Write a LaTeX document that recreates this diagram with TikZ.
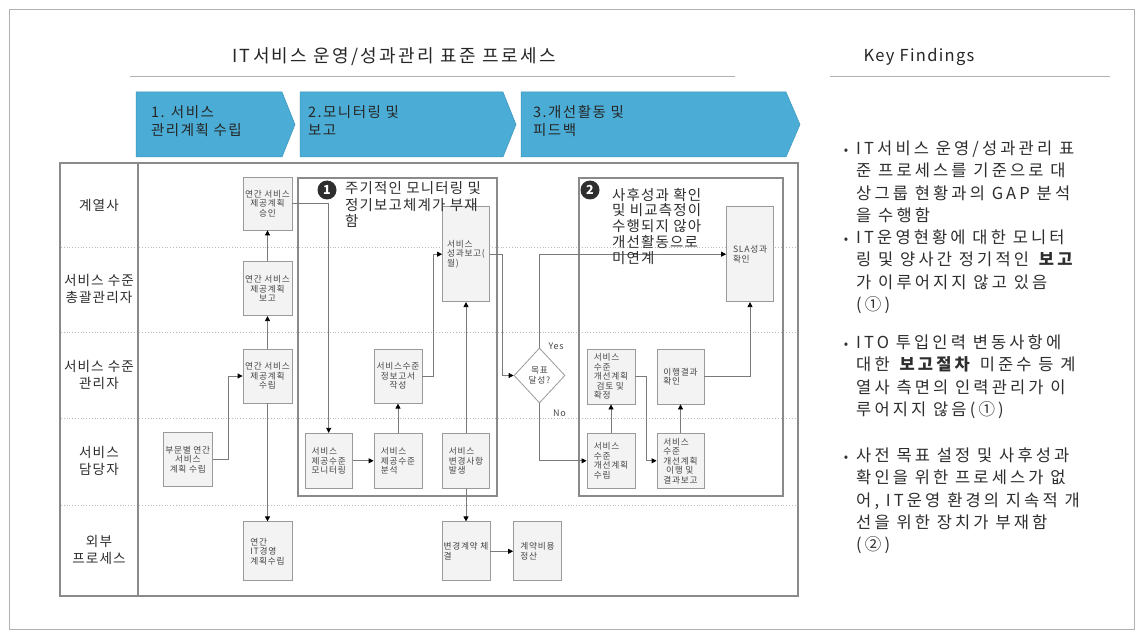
\documentclass[tikz,border=0pt]{standalone}
\usepackage{fontspec}
\setmainfont{Noto Sans CJK KR}[LetterSpace=8]
\newfontfamily\kffont{Noto Sans CJK KR}[LetterSpace=19]
\newfontfamily\headfont{Noto Sans CJK KR}[LetterSpace=13]
\newfontfamily\chevfont{Noto Sans CJK KR}[LetterSpace=10]
\usetikzlibrary{shapes.geometric,arrows.meta,calc}
\definecolor{chev}{HTML}{4BADD6}
\definecolor{chevline}{HTML}{3C95BD}
\definecolor{boxfill}{HTML}{F3F3F3}
\definecolor{boxline}{HTML}{9A9A9A}
\definecolor{lineg}{HTML}{7A7A7A}
\definecolor{frameg}{HTML}{8A8A8A}
\definecolor{txt}{HTML}{2E2E2E}
\definecolor{boxtxt}{HTML}{474747}
\definecolor{dotg}{HTML}{BBBBBB}
\definecolor{borderg}{HTML}{B0B0B0}
\begin{document}
\begin{tikzpicture}[x=1pt,y=-1pt,
  pbox/.style 2 args={draw=boxline, fill=boxfill, line width=0.8pt, inner sep=1pt,
     minimum width=#1, minimum height=#2, font=\fontsize{8.7}{9.5}\selectfont, text=boxtxt, align=center},
  lbox/.style 2 args={pbox={#1}{#2}, align=left},
  arr/.style={draw=lineg, line width=0.8pt, -{Triangle[length=5pt,width=5pt,black]}},
  lane/.style={font=\fontsize{13.6}{17}\selectfont, text=txt, align=center},
  chevtxt/.style={anchor=base west, font=\chevfont\fontsize{14.5}{18}\selectfont, text=black!85, align=left, inner sep=0},
  notetxt/.style={anchor=base west, font=\fontsize{14.5}{16.3}\selectfont, text=txt, align=left, inner sep=0},
  kf/.style={anchor=base west, font=\kffont\fontsize{16.5}{22.3}\selectfont, text=txt, align=left, inner sep=0},
  kfdot/.style={anchor=base, font=\fontsize{13}{13}\selectfont, text=txt, inner sep=0},
  numc/.style={circle, fill=black!82, minimum size=19, inner sep=0, text=white, font=\bfseries\fontsize{12.5}{12.5}\selectfont},
  yn/.style={font=\fontsize{9}{9}\selectfont, text=boxtxt, inner sep=0},
  heading/.style={font=\headfont\fontsize{18}{20}\selectfont, text=black!85, inner sep=0},
  frame/.style={draw=frameg, line width=2.6pt},
  dotline/.style={draw=dotg, line width=0.8pt, dotted}
]
\useasboundingbox (0,0) rectangle (1143,639);
\fill[white] (0,0) rectangle (1143,639);
\draw[borderg, line width=0.8pt] (9,9) rectangle (1134,629);

% headings
\node[heading] (title) at (394,57) {IT서비스 운영/성과관리 표준 프로세스};
\node[heading, font=\fontsize{16.5}{18}\selectfont] (kfhead) at (919,57) {Key Findings};
\draw[borderg, line width=1pt] (130,77) -- (735,77);
\draw[borderg, line width=1pt] (830,77) -- (1110,77);

% chevrons
\fill[chev, draw=chevline, line width=0.5pt] (136,92) -- (282,92) -- (295,124.5) -- (282,157) -- (136,157) -- cycle;
\fill[chev, draw=chevline, line width=0.5pt] (300,92) -- (503,92) -- (516,124.5) -- (503,157) -- (300,157) -- cycle;
\fill[chev, draw=chevline, line width=0.5pt] (521,92) -- (786,92) -- (800,124.5) -- (786,157) -- (521,157) -- cycle;
\node[chevtxt] (c1) at (151,136) {1. 서비스\\관리계획 수립};
\node[chevtxt] (c2) at (308,136) {2.모니터링 및\\보고};
\node[chevtxt] (c3) at (533,136) {3.개선활동 및\\피드백};

% main frame and lanes
\foreach \yy in {247,332,418,505} \draw[dotline] (61,\yy) -- (797,\yy);
\draw[frameg, line width=1.5pt] (60,163) rectangle (798,596);
\draw[frameg, line width=1.2pt] (138,163) -- (138,596);
\node[lane] (l1) at (99,205) {계열사};
\node[lane] (l2) at (99,289) {서비스 수준\\총괄관리자};
\node[lane] (l3) at (99,375) {서비스 수준\\관리자};
\node[lane] (l4) at (99,461) {서비스\\담당자};
\node[lane] (l5) at (99,550) {외부\\프로세스};

% highlighted frames
\draw[frame] (298,178) rectangle (497,496);
\draw[frame] (579,178) rectangle (783,496);

% process boxes
\node[pbox={49}{53}] (A1) at (267.5,203.5) {연간 서비스\\제공계획\\승인};
\node[pbox={49}{54}] (A2) at (267.5,288.7) {연간 서비스\\제공계획\\보고};
\node[pbox={49}{54}] (A3) at (267.5,376) {연간 서비스\\제공계획\\수립};
\node[pbox={49}{54}] (B0) at (187.8,459.7) {부문별 연간\\서비스\\계획 수립};
\node[lbox={49}{59}] (E1) at (267.5,551.3) {연간\\IT경영\\계획수립};
\node[lbox={47}{55}] (M1) at (328.7,460.8) {서비스\\제공수준\\모니터링};
\node[lbox={48}{55}] (M2) at (398,460.8) {서비스\\제공수준\\분석};
\node[pbox={48}{54}] (M3) at (398,376.2) {서비스수준\\정보고서\\작성};
\node[lbox={47}{95}] (M4) at (466,254.2) {서비스\\성과보고(\\월)};
\node[lbox={47}{55}] (M5) at (466,460.8) {서비스\\변경사항\\발생};
\node[lbox={48}{59}] (E2) at (466,551.3) {변경계약 체\\결};
\node[lbox={48}{59}] (E3) at (537.5,551.3) {계약비용\\정산};
\node[diamond, draw=boxline, fill=white, line width=0.8pt, inner sep=0, minimum width=51, minimum height=55,
      font=\fontsize{8.7}{9.5}\selectfont, text=boxtxt, align=center] (D) at (539.5,375.5) {목표\\달성?};
\node[lbox={47}{95}] (S1) at (750,254.2) {SLA성과\\확인};
\node[lbox={48}{55}] (I1) at (611,376.5) {서비스\\수준\\개선계획\\\ 검토 및\\확정};
\node[lbox={47}{55}] (I2) at (680.5,376.5) {이행결과\\확인};
\node[lbox={48}{55}] (I3) at (611,460.8) {서비스\\수준\\개선계획\\수립};
\node[lbox={47}{55}] (I4) at (680.5,460.8) {서비스\\수준\\개선계획\\\ 이행 및\\결과보고};

% connectors
\draw[arr] (A3.north) -- (A2.south);
\draw[arr] (A2.north) -- (A1.south);
\draw[arr] (B0.east) -- ++(16,0) |- (A3.west);
\draw[arr] (A3.south) -- (E1.north);
\draw[arr] (A1.east) -| (M1.north);
\draw[arr] (M1.east) -- (M2.west);
\draw[arr] (M2.north) -- (M3.south);
\draw[arr] (M3.east) -- ++(11,0) |- (M4.west);
\draw[arr] (M5.north) -- (M4.south);
\draw[arr] (M5.south) -- (E2.north);
\draw[arr] (E2.east) -- (E3.west);
\draw[arr] (M4.east) -- ++(12,0) |- (D.west);
\draw[arr] (D.north) |- (S1.west);
\draw[arr] (D.south) |- (I3.west);
\draw[arr] (I3.north) -- (I1.south);
\draw[arr] (I1.east) -- ++(11,0) |- (I4.west);
\draw[arr] (I4.north) -- (I2.south);
\draw[arr] (I2.east) -| (S1.south);
\node[yn] (yes) at (556,346) {Yes};
\node[yn] (no) at (559.5,413) {No};

% numbered notes
\node[numc] (n1) at (327,190) {1};
\node[notetxt] (t1) at (345,226.6) {주기적인 모니터링 및\\정기보고체계가 부재\\함};
\node[numc] (n2) at (590,190) {2};
\node[notetxt, font=\fontsize{14.5}{15.9}\selectfont] (t2) at (612,263.6) {사후성과 확인\\및 비교측정이\\수행되지 않아\\개선활동으로\\미연계};

% key findings
\node[kfdot] (b1) at (846,154.5) {•};
\node[kf] (k1) at (856,221.4) {IT서비스 운영/성과관리 표\\준 프로세스를 기준으로 대\\상그룹 현황과의 GAP 분석\\을 수행함};
\node[kfdot] (b2) at (846,243.5) {•};
\node[kf] (k2) at (856,310.4) {IT운영현황에 대한 모니터\\링 및 양사간 정기적인 \textbf{보고}\\가 이루어지지 않고 있음\\(①)};
\node[kfdot] (b3) at (846,348.5) {•};
\node[kf] (k3) at (856,415.4) {ITO 투입인력 변동사항에\\대한 \textbf{보고절차} 미준수 등 계\\열사 측면의 인력관리가 이\\루어지지 않음(①)};
\node[kfdot] (b4) at (846,461.5) {•};
\node[kf] (k4) at (856,550.7) {사전 목표 설정 및 사후성과\\확인을 위한 프로세스가 없\\어, IT운영 환경의 지속적 개\\선을 위한 장치가 부재함\\(②)};
\end{tikzpicture}
\end{document}
